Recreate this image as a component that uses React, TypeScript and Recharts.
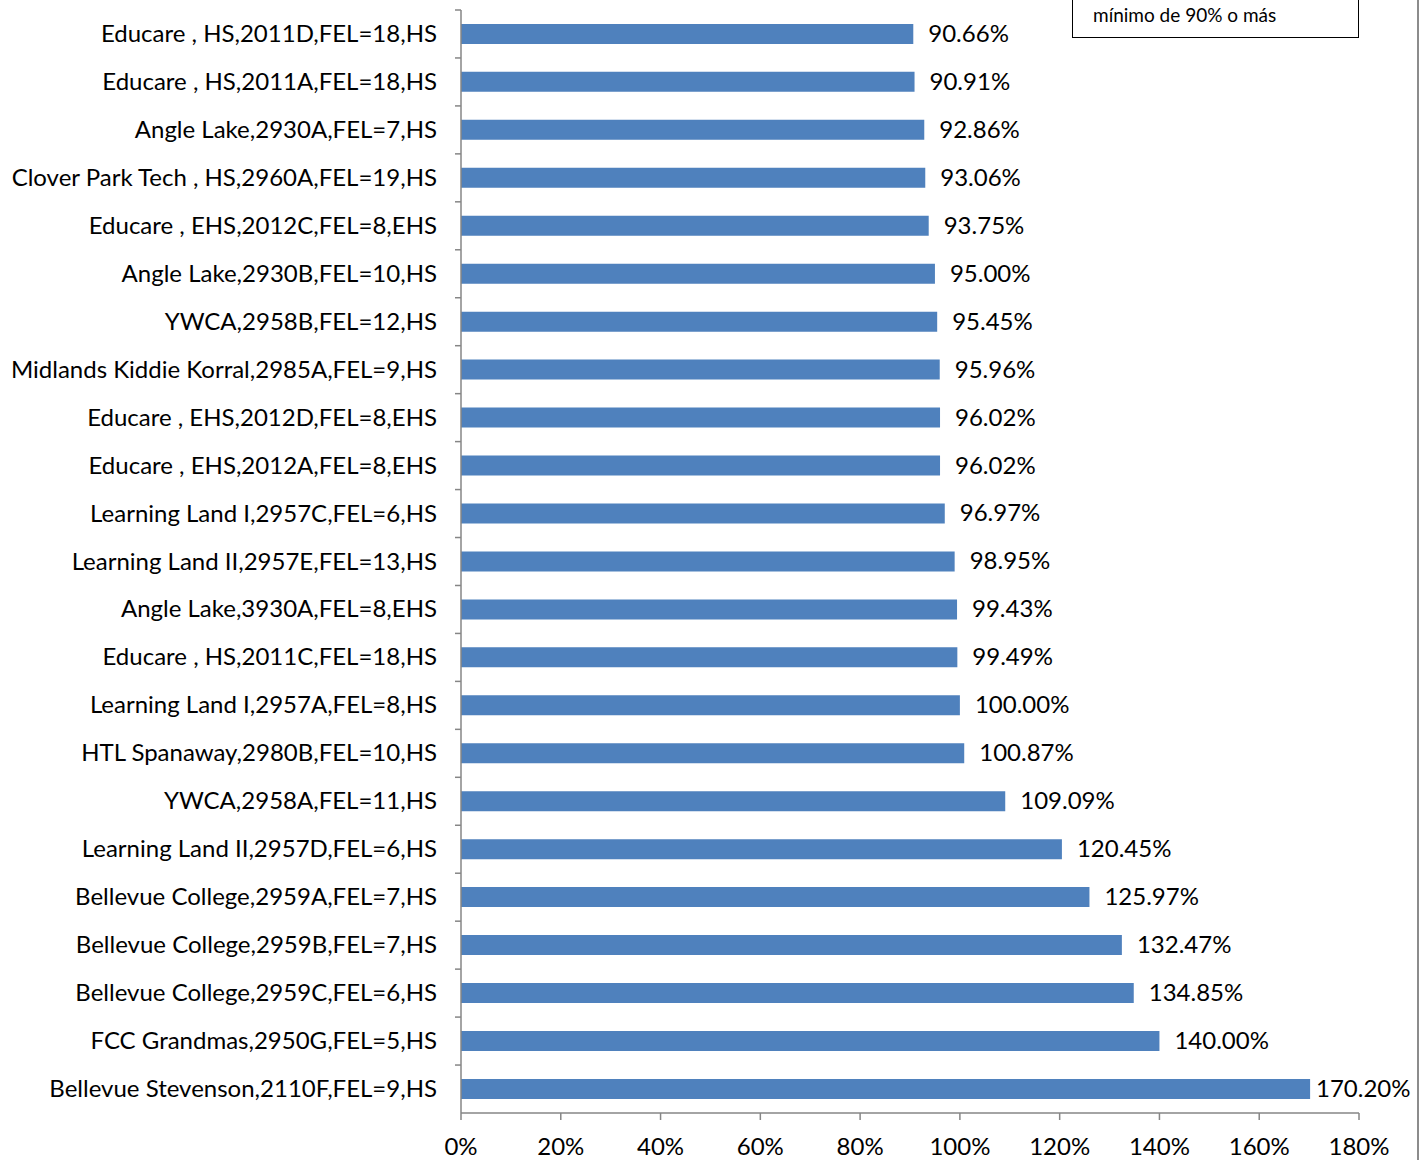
import React from "react";
import { BarChart, Bar, XAxis, YAxis, LabelList } from "recharts";

const sites = [
  "Educare , HS,2011D,FEL=18,HS",
  "Educare , HS,2011A,FEL=18,HS",
  "Angle Lake,2930A,FEL=7,HS",
  "Clover Park Tech , HS,2960A,FEL=19,HS",
  "Educare , EHS,2012C,FEL=8,EHS",
  "Angle Lake,2930B,FEL=10,HS",
  "YWCA,2958B,FEL=12,HS",
  "Midlands Kiddie Korral,2985A,FEL=9,HS",
  "Educare , EHS,2012D,FEL=8,EHS",
  "Educare , EHS,2012A,FEL=8,EHS",
  "Learning Land I,2957C,FEL=6,HS",
  "Learning Land II,2957E,FEL=13,HS",
  "Angle Lake,3930A,FEL=8,EHS",
  "Educare , HS,2011C,FEL=18,HS",
  "Learning Land I,2957A,FEL=8,HS",
  "HTL Spanaway,2980B,FEL=10,HS",
  "YWCA,2958A,FEL=11,HS",
  "Learning Land II,2957D,FEL=6,HS",
  "Bellevue College,2959A,FEL=7,HS",
  "Bellevue College,2959B,FEL=7,HS",
  "Bellevue College,2959C,FEL=6,HS",
  "FCC Grandmas,2950G,FEL=5,HS",
  "Bellevue Stevenson,2110F,FEL=9,HS",
];

const rates = [
  90.66, 90.91, 92.86, 93.06, 93.75, 95.0, 95.45, 95.96, 96.02, 96.02, 96.97,
  98.95, 99.43, 99.49, 100.0, 100.87, 109.09, 120.45, 125.97, 132.47, 134.85,
  140.0, 170.2,
];

const xTicks = [0, 20, 40, 60, 80, 100, 120, 140, 160, 180];

const data = sites.map((name, i) => ({ name, rate: rates[i] }));

const FONT = "Lato, 'Open Sans', sans-serif";
const TOP = 10;
const BOTTOM = 1113;
const band = (BOTTOM - TOP) / sites.length;

function SiteTick(props: any) {
  const { x, y, payload } = props;
  return (
    <g>
      <line x1={x + 2} x2={x + 8} y1={y - band / 2} y2={y - band / 2} stroke="#868686" strokeWidth={1.5} />
      <text x={x - 16} y={y} dy={8} textAnchor="end" fill="#000" fontSize={24} fontFamily={FONT}>
        {payload.value}
      </text>
    </g>
  );
}

// value label to the right of the bar, pulled in a bit when it would run off the plot
function RateLabel(props: any) {
  const { x, y, width, height, value } = props;
  const text = `${Number(value).toFixed(2)}%`;
  const w = text.length * 13;
  const lx = Math.min(x + width + 15, 1407 - w);
  return (
    <text x={lx} y={y + height / 2} dy={8} fill="#000" fontSize={24} fontFamily={FONT}>
      {text}
    </text>
  );
}

export default function App() {
  return (
    <div style={{ position: "absolute", left: 0, top: 0, width: 1426, height: 1160, background: "#fff", overflow: "hidden" }}>
      <BarChart
        layout="vertical"
        width={1426}
        height={1160}
        data={data}
        margin={{ top: TOP, right: 67, bottom: 0, left: 0 }}
        barCategoryGap="29%"
      >
        <XAxis
          type="number"
          domain={[0, 180]}
          ticks={xTicks}
          tickFormatter={(v: number) => `${v}%`}
          axisLine={{ stroke: "#868686", strokeWidth: 1.5 }}
          tickLine={{ stroke: "#868686", strokeWidth: 1.5 }}
          tickSize={7}
          tick={{ fill: "#000", fontSize: 24, fontFamily: FONT, dy: 16 }}
          interval={0}
          height={1160 - BOTTOM}
        />
        <YAxis
          type="category"
          dataKey="name"
          width={461}
          interval={0}
          axisLine={{ stroke: "#868686", strokeWidth: 1.5 }}
          tickLine={false}
          tick={<SiteTick />}
        />
        <Bar dataKey="rate" fill="#4F81BD" isAnimationActive={false}>
          <LabelList dataKey="rate" content={<RateLabel />} />
        </Bar>
      </BarChart>
      <div
        style={{
          position: "absolute",
          left: 1072,
          top: -40,
          width: 287,
          height: 78,
          border: "1.5px solid #000",
          background: "#fff",
          fontFamily: FONT,
          fontSize: 19,
          color: "#000",
          boxSizing: "border-box",
        }}
      >
        <div style={{ position: "absolute", left: 20, top: 42 }}>mínimo de 90% o más</div>
      </div>
      <div style={{ position: "absolute", left: 1417, top: 0, width: 2, height: 1160, background: "#8c8c8c" }} />
    </div>
  );
}
